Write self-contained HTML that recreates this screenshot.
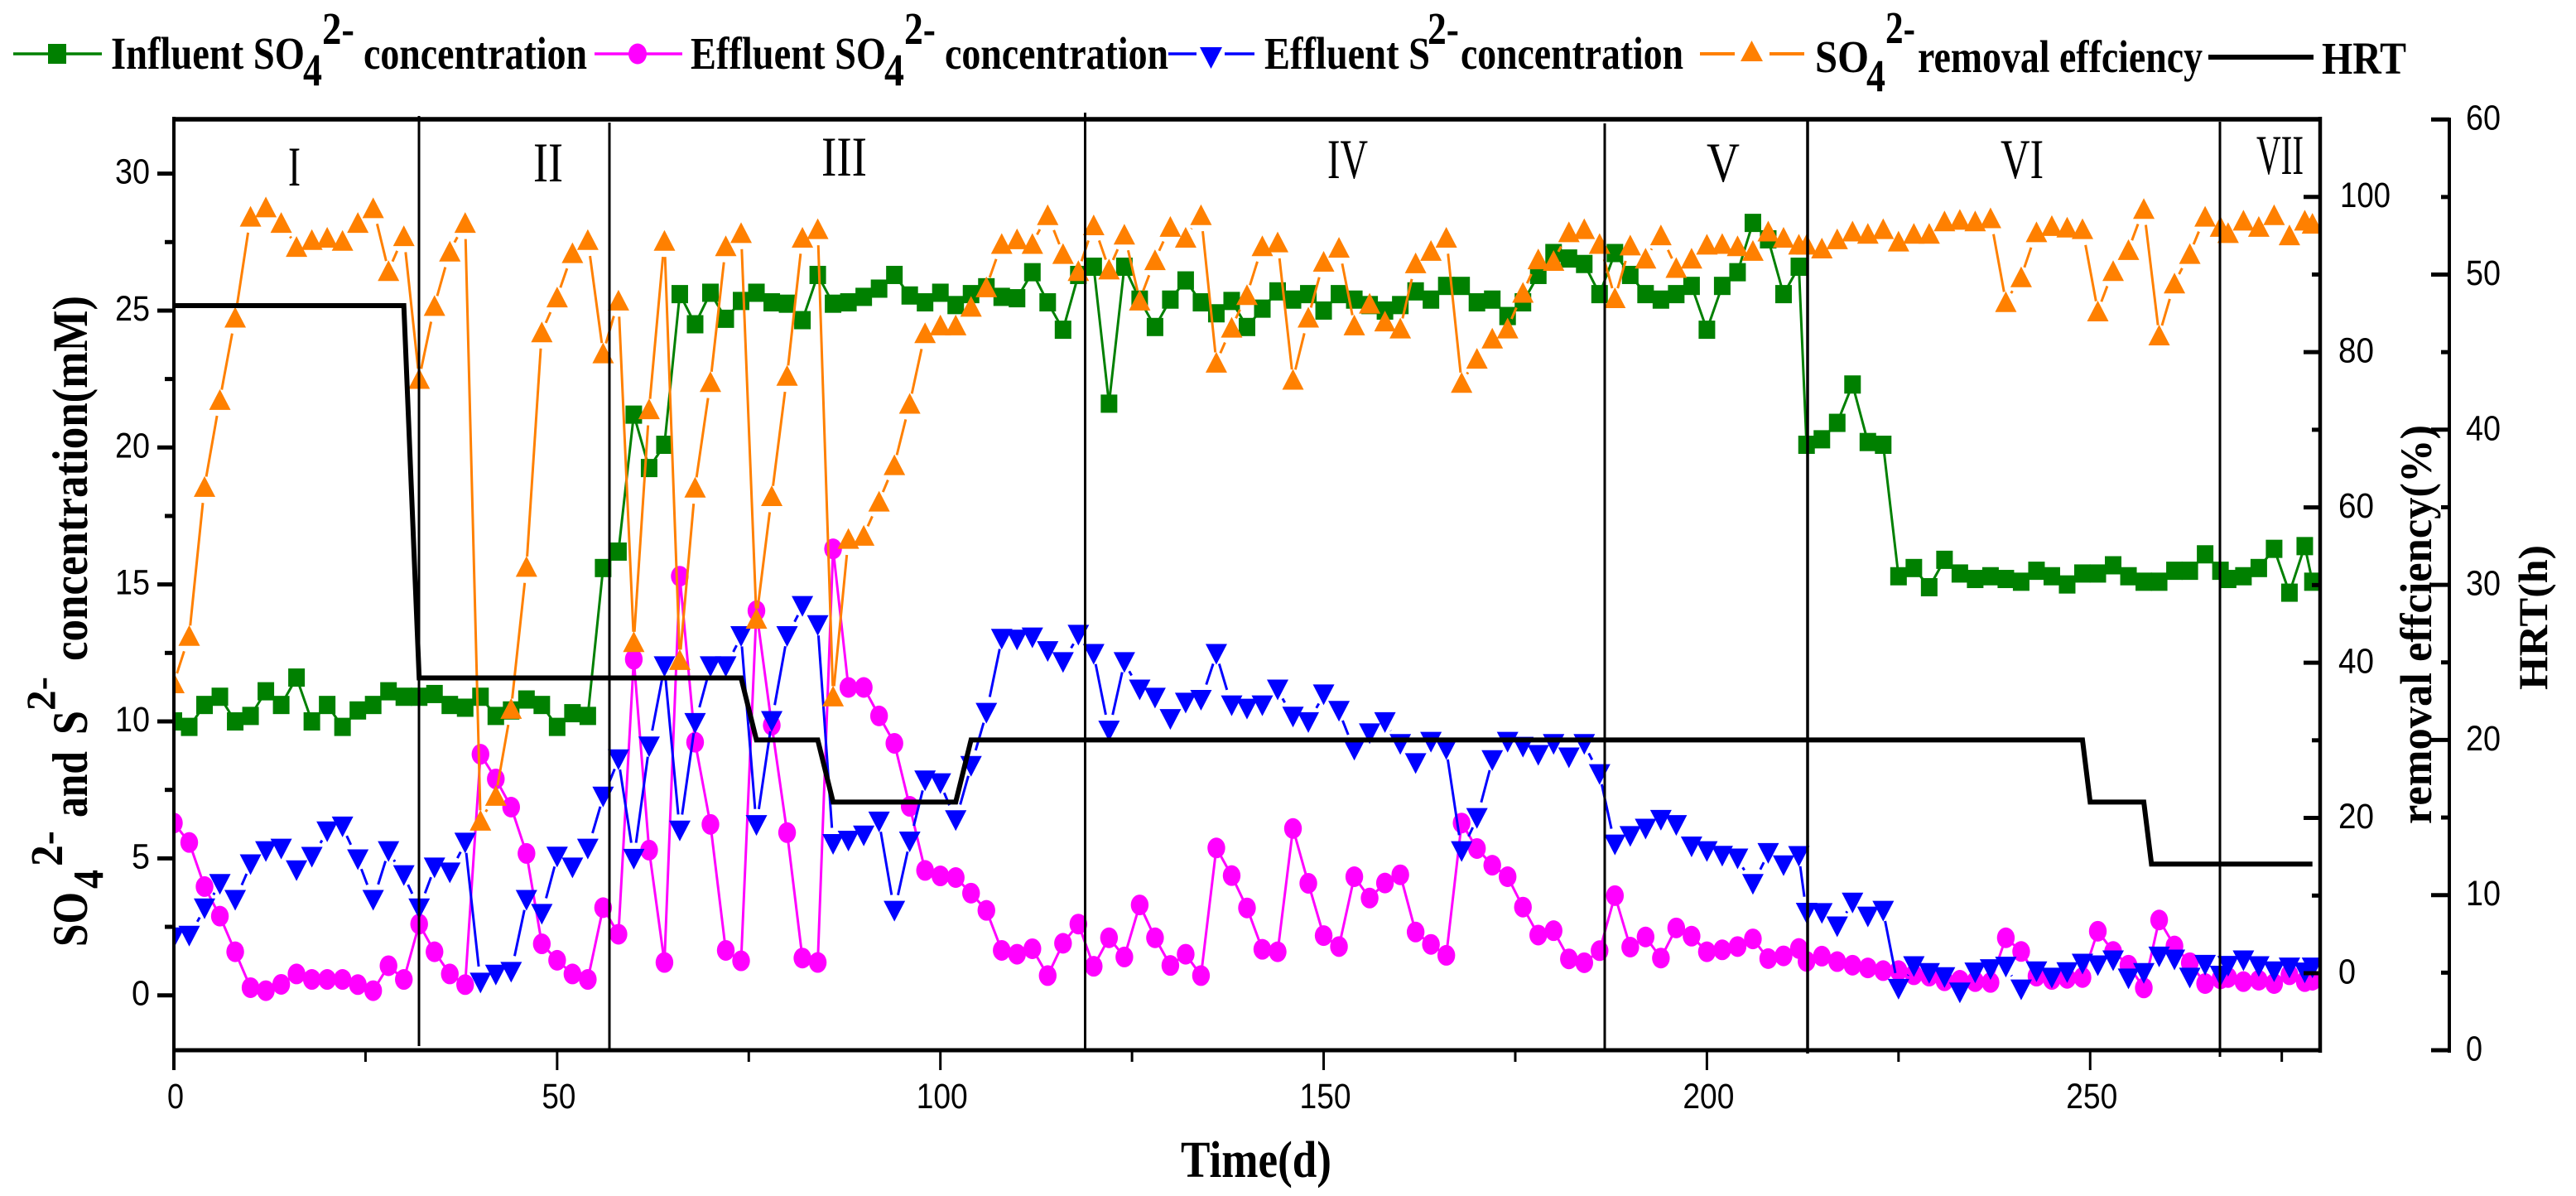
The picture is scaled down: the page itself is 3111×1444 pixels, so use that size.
<!DOCTYPE html>
<html lang="en">
<head>
<meta charset="utf-8">
<title>Sulfate and sulfide concentration over time</title>
<style>
html,body{margin:0;padding:0;background:#fff;}
svg{display:block;}
.serifb{font-family:"Liberation Serif",serif;font-weight:bold;fill:#000;}
.serif{font-family:"Liberation Serif",serif;fill:#000;}
.sans{font-family:"Liberation Sans",sans-serif;fill:#000;}
</style>
</head>
<body>
<svg id="chart" xmlns="http://www.w3.org/2000/svg" width="3111" height="1444" viewBox="0 0 3111 1444">
<defs><clipPath id="plot-clip"><rect x="210" y="144" width="2592" height="1124"/></clipPath></defs>
<rect width="3111" height="1444" fill="#fff"/>

<g id="legend" font-size="55">
  <g>
    <line x1="16" y1="65" x2="123" y2="65" stroke="#008000" stroke-width="3.5"/>
    <rect x="58" y="53" width="22" height="24" fill="#008000"/>
    <text class="serifb" x="134" y="83" textLength="234" lengthAdjust="spacingAndGlyphs">Influent SO</text>
    <text class="serifb" x="366" y="103" textLength="23" lengthAdjust="spacingAndGlyphs">4</text>
    <text class="serifb" x="389" y="53" textLength="39" lengthAdjust="spacingAndGlyphs">2-</text>
    <text class="serifb" x="439" y="83" textLength="270" lengthAdjust="spacingAndGlyphs">concentration</text>
  </g>
  <g>
    <line x1="718" y1="65" x2="824" y2="65" stroke="#ff00ff" stroke-width="3.5"/>
    <ellipse cx="770" cy="65" rx="11" ry="12.5" fill="#ff00ff"/>
    <text class="serifb" x="834" y="83" textLength="236" lengthAdjust="spacingAndGlyphs">Effluent SO</text>
    <text class="serifb" x="1068" y="103" textLength="24" lengthAdjust="spacingAndGlyphs">4</text>
    <text class="serifb" x="1092" y="53" textLength="38" lengthAdjust="spacingAndGlyphs">2-</text>
    <text class="serifb" x="1141" y="83" textLength="270" lengthAdjust="spacingAndGlyphs">concentration</text>
  </g>
  <g>
    <line x1="1411" y1="65" x2="1445" y2="65" stroke="#0000ff" stroke-width="3.5"/>
    <line x1="1479" y1="65" x2="1515" y2="65" stroke="#0000ff" stroke-width="3.5"/>
    <polygon points="1449,57 1476,57 1462.5,83" fill="#0000ff"/>
    <text class="serifb" x="1527" y="83" textLength="200" lengthAdjust="spacingAndGlyphs">Effluent S</text>
    <text class="serifb" x="1724" y="53" textLength="38" lengthAdjust="spacingAndGlyphs">2-</text>
    <text class="serifb" x="1764" y="83" textLength="269" lengthAdjust="spacingAndGlyphs">concentration</text>
  </g>
  <g>
    <line x1="2053" y1="65" x2="2095" y2="65" stroke="#ff8000" stroke-width="4"/>
    <line x1="2137" y1="65" x2="2179" y2="65" stroke="#ff8000" stroke-width="4"/>
    <polygon points="2102,74 2129,74 2115.5,49" fill="#ff8000"/>
    <text class="serifb" x="2192" y="87" textLength="65" lengthAdjust="spacingAndGlyphs">SO</text>
    <text class="serifb" x="2254" y="110" textLength="23" lengthAdjust="spacingAndGlyphs">4</text>
    <text class="serifb" x="2277" y="52" textLength="36" lengthAdjust="spacingAndGlyphs">2-</text>
    <text class="serifb" x="2316" y="87" textLength="344" lengthAdjust="spacingAndGlyphs">removal effciency</text>
  </g>
  <g>
    <line x1="2667" y1="69" x2="2794" y2="69" stroke="#000" stroke-width="6"/>
    <text class="serifb" x="2804" y="89" textLength="102" lengthAdjust="spacingAndGlyphs">HRT</text>
  </g>
</g>

<g id="series" clip-path="url(#plot-clip)"></g>

<g id="phase-lines" stroke="#000" stroke-width="3">
  <line x1="506" y1="140" x2="506" y2="1263"/>
  <line x1="736" y1="148" x2="736" y2="1268"/>
  <line x1="1310.5" y1="136" x2="1310.5" y2="1268"/>
  <line x1="1938" y1="149" x2="1938" y2="1268"/>
  <line x1="2183" y1="146" x2="2183" y2="1272" stroke-width="3.5"/>
  <line x1="2681" y1="147" x2="2681" y2="1276"/>
</g>

<g id="phase-labels" font-size="68">
  <text class="serif" x="348" y="224" textLength="15" lengthAdjust="spacingAndGlyphs">I</text>
  <text class="serif" x="644" y="219" textLength="36" lengthAdjust="spacingAndGlyphs">II</text>
  <text class="serif" x="992" y="212" textLength="55" lengthAdjust="spacingAndGlyphs">III</text>
  <text class="serif" x="1603" y="215" textLength="49" lengthAdjust="spacingAndGlyphs">IV</text>
  <text class="serif" x="2061" y="219" textLength="40" lengthAdjust="spacingAndGlyphs">V</text>
  <text class="serif" x="2416" y="215" textLength="52" lengthAdjust="spacingAndGlyphs">VI</text>
  <text class="serif" x="2725" y="210" textLength="57" lengthAdjust="spacingAndGlyphs">VII</text>
</g>

<g id="axes" stroke="#000">
  <line x1="208" y1="144" x2="2804" y2="144" stroke-width="5.5"/>
  <line x1="208" y1="1268" x2="2804" y2="1268" stroke-width="5"/>
  <line x1="210" y1="141" x2="210" y2="1292" stroke-width="4"/>
  <line x1="2802" y1="141" x2="2802" y2="1271" stroke-width="4.5"/>
  <line x1="2958" y1="142" x2="2958" y2="1271" stroke-width="4"/>
</g>
<g id="ticks"></g>

<g id="axis-titles">
  <g font-size="60">
    <text class="serifb" transform="translate(105 1143) rotate(-90)" textLength="66" lengthAdjust="spacingAndGlyphs">SO</text>
    <text class="serifb" font-size="52" transform="translate(124 1073) rotate(-90)" textLength="23" lengthAdjust="spacingAndGlyphs">4</text>
    <text class="serifb" font-size="55" transform="translate(75 1046) rotate(-90)" textLength="43" lengthAdjust="spacingAndGlyphs">2-</text>
    <text class="serifb" transform="translate(105 987) rotate(-90)" textLength="80" lengthAdjust="spacingAndGlyphs">and</text>
    <text class="serifb" transform="translate(105 887) rotate(-90)" textLength="29" lengthAdjust="spacingAndGlyphs">S</text>
    <text class="serifb" font-size="50" transform="translate(66 858) rotate(-90)" textLength="41" lengthAdjust="spacingAndGlyphs">2-</text>
    <text class="serifb" transform="translate(105 798) rotate(-90)" textLength="441" lengthAdjust="spacingAndGlyphs">concentration(mM)</text>
  </g>
  <text class="serifb" font-size="54" transform="translate(2936 995) rotate(-90)" textLength="482" lengthAdjust="spacingAndGlyphs">removal effciency(%)</text>
  <text class="serifb" font-size="50" transform="translate(3076 833) rotate(-90)" textLength="175" lengthAdjust="spacingAndGlyphs">HRT(h)</text>
  <text class="serifb" font-size="62" x="1426" y="1421" textLength="182" lengthAdjust="spacingAndGlyphs">Time(d)</text>
</g>
</svg>

<script>
const days = [0,2,4,6,8,10,12,14,16,18,20,22,24,26,28,30,32,34,36,38,40,42,44,46,48,50,52,54,56,58,60,62,64,66,68,70,72,74,76,78,80,82,84,86,88,90,92,94,96,98,100,102,104,106,108,110,112,114,116,118,120,122,124,126,128,130,132,134,136,138,140,142,144,146,148,150,152,154,156,158,160,162,164,166,168,170,172,174,176,178,180,182,184,186,188,190,192,194,196,198,200,202,204,206,208,210,212,213,215,217,219,221,223,225,227,229,231,233,235,237,239,241,243,245,247,249,251,253,255,257,259,261,263,265,267,268,270,272,274,276,278,279];

const influentSO4 = [10.0,9.8,10.6,10.9,10.0,10.2,11.1,10.6,11.6,10.0,10.6,9.8,10.4,10.6,11.1,10.9,
10.9,11.0,10.6,10.5,10.9,10.2,10.4,10.8,10.6,9.8,10.3,10.2,15.6,16.2,21.2,19.25,20.1,
25.6,24.5,25.65,24.7,25.35,25.65,25.3,25.25,24.65,26.3,
25.25,25.3,25.5,25.8,26.3,25.55,25.3,25.65,25.2,25.6,
25.85,25.5,25.45,26.4,25.3,24.3,26.3,26.6,21.6,26.6,
25.4,24.4,25.4,26.1,25.3,24.9,25.35,24.4,25.07,25.7,
25.4,25.6,25.0,25.6,25.4,25.2,25.0,25.2,25.7,25.4,
25.9,25.9,25.3,25.4,24.8,25.3,26.3,27.1,26.9,26.7,
25.6,27.1,26.3,25.6,25.4,25.6,25.9,24.3,25.9,26.4,
28.2,27.6,25.6,26.6,
20.1,20.3,20.9,22.3,20.2,20.1,15.3,15.6,14.9,15.9,15.4,15.2,15.3,15.2,15.1,15.5,15.3,15.0,15.4,15.4,15.7,15.3,15.1,15.1,15.5,15.5,16.1,15.5,
15.2,15.3,15.6,16.3,14.7,16.4,15.1];

const effluentSO4 = [6.29,5.58,3.97,2.89,1.59,.28,.17,.4,.78,.58,.58,.58,.39,.17,1.08,.58,2.6,1.59,.78,.39,
8.8,7.9,6.87,5.18,1.88,1.28,.78,.58,3.2,2.23,12.27,5.3,1.2,
15.3,9.24,6.24,1.64,1.26,14.04,9.86,5.94,1.36,1.2,
16.3,11.24,11.24,10.2,9.2,6.9,
4.56,4.36,4.3,3.73,3.1,1.64,1.5,1.7,.72,1.9,2.6,
1.06,2.1,1.4,3.3,2.1,1.09,1.5,.72,
5.38,4.37,3.19,1.68,1.59,6.09,4.09,2.18,1.78,
4.33,3.55,4.1,4.4,2.31,1.86,1.46,
6.29,5.36,4.75,4.33,3.22,2.2,2.36,1.33,1.19,1.63,3.64,1.76,2.13,
1.36,2.46,2.16,1.59,1.66,1.78,2.06,1.34,1.44,1.71,
1.24,1.43,1.23,1.1,1,.9,.9,.75,.7,.53,.55,.5,.47,2.1,1.6,.7,.58,.62,.65,2.34,1.6,1.1,.27,2.75,1.8,1.19,.43,.6,
.65,.5,.55,.43,.75,.5,.55];

const effluentS = [2.1,2.16,3.16,4.05,3.47,4.77,5.25,5.34,4.55,5.04,5.97,6.15,4.95,3.47,5.25,4.37,3.16,4.65,4.47,5.56,
.45,.74,.84,3.47,2.96,5.05,4.65,5.34,7.24,8.6,4.97,9.07,12.0,
6.0,9.93,12.0,12.0,13.1,6.2,10.0,13.1,14.2,13.5,
5.51,5.63,5.82,6.33,3.07,5.6,7.83,7.73,6.38,8.36,
10.3,13.0,12.97,13.05,12.55,12.15,13.15,12.45,9.65,12.15,
11.15,10.85,10.07,10.67,10.77,12.45,10.57,10.45,10.57,11.15,
10.16,9.96,10.97,10.37,8.95,9.55,9.96,9.16,8.46,9.24,
8.97,5.25,6.46,8.57,9.24,9.06,8.76,9.16,8.67,9.16,
8.06,5.49,5.8,6.07,6.39,6.2,5.42,5.25,5.08,4.98,
4.05,5.18,4.73,5.07,
3.0,2.99,2.5,3.37,2.86,3.07,.22,1.05,.8,.65,.09,.82,.94,1.03,.2,.86,.63,.83,1.14,1.08,1.26,.6,.8,1.4,1.29,.63,1.1,.7,
1.06,1.26,1.05,.86,1,.82,1];

const removalEfficiency = [37.4,43.5,62.7,73.9,84.5,97.5,98.7,96.7,93.6,94.5,94.8,94.4,96.7,98.6,90.5,95,76.6,86,93,96.7,
19.7,22.9,34.1,52.4,82.6,87.1,92.8,94.5,79.9,86.7,42.7,72.7,94.4,
40.4,62.6,76.2,93.7,95.4,45.7,61.5,77,94.8,95.9,
35.7,56,56.4,60.8,65.5,73.4,82.5,83.5,83.5,85.9,
88.4,94,94.6,94,97.7,92.7,90.5,96.4,90.7,95.2,
86.7,91.9,96.2,94.8,97.7,78.7,83.2,87.4,93.7,94.2,
76.5,84.5,91.7,93.5,83.5,86.3,84,83.1,91.5,93.1,
94.8,76.1,79.2,81.8,83.1,87.7,92,91.8,95.5,95.9,
94,87,93.8,92.1,95.1,90.9,92.1,93.9,94,93.7,
93.1,95.6,94.8,93.9,
93.9,93.4,94.6,95.6,95.3,95.9,94.3,95.3,95.3,96.9,97.1,96.9,97.3,86.5,89.7,95.5,96.3,96.1,95.9,85.3,90.5,93.2,98.5,82.2,88.9,92.7,97.5,96.2,
95.4,97,96.2,97.7,95.1,97,96.6];

const hrtDays = [0,30,32,74,76,84,86,102,104,249,250,257,258,279];
const hrtHours = [48,48,24,24,20,20,16,16,20,20,16,16,12,12];

const xMajorTicks = [0,50,100,150,200,250];
const xMinorTicks = [25,75,125,175,225,275];
const leftMajorTicks = [0,5,10,15,20,25,30];
const leftMinorTicks = [2.5,7.5,12.5,17.5,22.5,27.5];
const removalMajorTicks = [0,20,40,60,80,100];
const removalMinorTicks = [10,30,50,70,90];
const hrtMajorTicks = [0,10,20,30,40,50,60];
const hrtMinorTicks = [5,15,25,35,45,55];

const NS = 'http://www.w3.org/2000/svg';
const xScale = d => 210 + 9.257 * d;
const yLeft = v => 1201.7 - 33.07 * v;
const yRemoval = v => 1175 - 9.373 * v;
const yHrt = v => 1268 - 18.73 * v;

function make(tag, parent, attrs) {
  const el = document.createElementNS(NS, tag);
  for (const k in attrs) el.setAttribute(k, attrs[k]);
  parent.appendChild(el);
  return el;
}

const seriesRoot = document.getElementById('series');
const ticksRoot = document.getElementById('ticks');

function drawSeries(name, values, yFn, color, shape, gapUpper, gapLower) {
  const group = make('g', seriesRoot, {});
  
  
  const n = Math.min(days.length, values.length);
  for (let i = 0; i < n - 1; i++) {
    const x1 = xScale(days[i]), y1 = yFn(values[i]);
    const x2 = xScale(days[i + 1]), y2 = yFn(values[i + 1]);
    const len = Math.hypot(x2 - x1, y2 - y1);
    const g1 = y1 < y2 ? gapUpper : gapLower;
    const g2 = y1 < y2 ? gapLower : gapUpper;
    if (len <= g1 + g2) continue;
    const ux = (x2 - x1) / len, uy = (y2 - y1) / len;
    const seg = make('line', group, {
      x1: x1 + ux * g1, y1: y1 + uy * g1,
      x2: x2 - ux * g2, y2: y2 - uy * g2,
      stroke: color, 'stroke-width': 3
    });
    
    
  }
  for (let i = 0; i < n; i++) {
    const x = xScale(days[i]), y = yFn(values[i]);
    let m;
    if (shape === 'square') {
      m = make('rect', group, { x: x - 10, y: y - 11, width: 20, height: 22, fill: color });
    } else if (shape === 'circle') {
      m = make('ellipse', group, { cx: x, cy: y, rx: 10.7, ry: 12.5, fill: color });
    } else if (shape === 'down') {
      m = make('polygon', group, { points: (x - 13) + ',' + (y - 12.5) + ' ' + (x + 13) + ',' + (y - 12.5) + ' ' + x + ',' + (y + 12.5), fill: color });
    } else {
      m = make('polygon', group, { points: (x - 13) + ',' + (y + 12.5) + ' ' + (x + 13) + ',' + (y + 12.5) + ' ' + x + ',' + (y - 12.5), fill: color });
    }
    
    
  }
}

drawSeries('influent-so4', influentSO4, yLeft, '#008000', 'square', 0, 0);
drawSeries('effluent-so4', effluentSO4, yLeft, '#ff00ff', 'circle', 0, 0);
drawSeries('effluent-s', effluentS, yLeft, '#0000ff', 'down', 12, 20);
drawSeries('so4-removal', removalEfficiency, yRemoval, '#ff8000', 'up', 20, 12);

const hrtLine = make('polyline', seriesRoot, {
  points: hrtDays.map((d, i) => xScale(d) + ',' + yHrt(hrtHours[i])).join(' '),
  fill: 'none', stroke: '#000', 'stroke-width': 6, 'stroke-linejoin': 'miter'
});



function tickLine(name, x1, y1, x2, y2, w) {
  const t = make('line', ticksRoot, { x1: x1, y1: y1, x2: x2, y2: y2, stroke: '#000', 'stroke-width': w });
  
  
}

function tickText(name, label, x, y, width) {
  const t = make('text', ticksRoot, { x: x, y: y, 'font-size': 43, class: 'sans', textLength: width, lengthAdjust: 'spacingAndGlyphs' });
  
  
  t.textContent = String(label);
}

xMajorTicks.forEach(v => {
  const x = xScale(v);
  tickLine('x-major-tick', x, 1268, x, 1292, 3);
  const w = String(v).length === 1 ? 20 : String(v).length === 2 ? 41 : 62;
  tickText('x-tick-label', v, x + 2 - w / 2, 1338, w);
});
xMinorTicks.forEach(v => {
  tickLine('x-minor-tick', xScale(v), 1268, xScale(v), 1282, 3);
});

leftMajorTicks.forEach(v => {
  const y = yLeft(v);
  tickLine('left-major-tick', 190, y, 210, y, 5);
  const w = String(v).length === 1 ? 22 : 42;
  tickText('left-tick-label', v, 181 - w, y + 12, w);
});
leftMinorTicks.forEach(v => {
  tickLine('left-minor-tick', 199, yLeft(v), 210, yLeft(v), 5);
});

removalMajorTicks.forEach(v => {
  const y = yRemoval(v);
  tickLine('removal-major-tick', 2782, y, 2802, y, 5);
  const w = String(v).length === 1 ? 21 : String(v).length === 2 ? 43 : 61;
  tickText('removal-tick-label', v, v === 100 ? 2826 : 2824, y + 12.3, w);
});
removalMinorTicks.forEach(v => {
  tickLine('removal-minor-tick', 2792, yRemoval(v), 2802, yRemoval(v), 5);
});

hrtMajorTicks.forEach(v => {
  const y = yHrt(v);
  tickLine('hrt-major-tick', 2936, y, 2958, y, 5);
  const w = String(v).length === 1 ? 20 : 42;
  tickText('hrt-tick-label', v, 2978, y + 12.5, w);
});
hrtMinorTicks.forEach(v => {
  tickLine('hrt-minor-tick', 2948, yHrt(v), 2958, yHrt(v), 5);
});
</script>
</body>
</html>
